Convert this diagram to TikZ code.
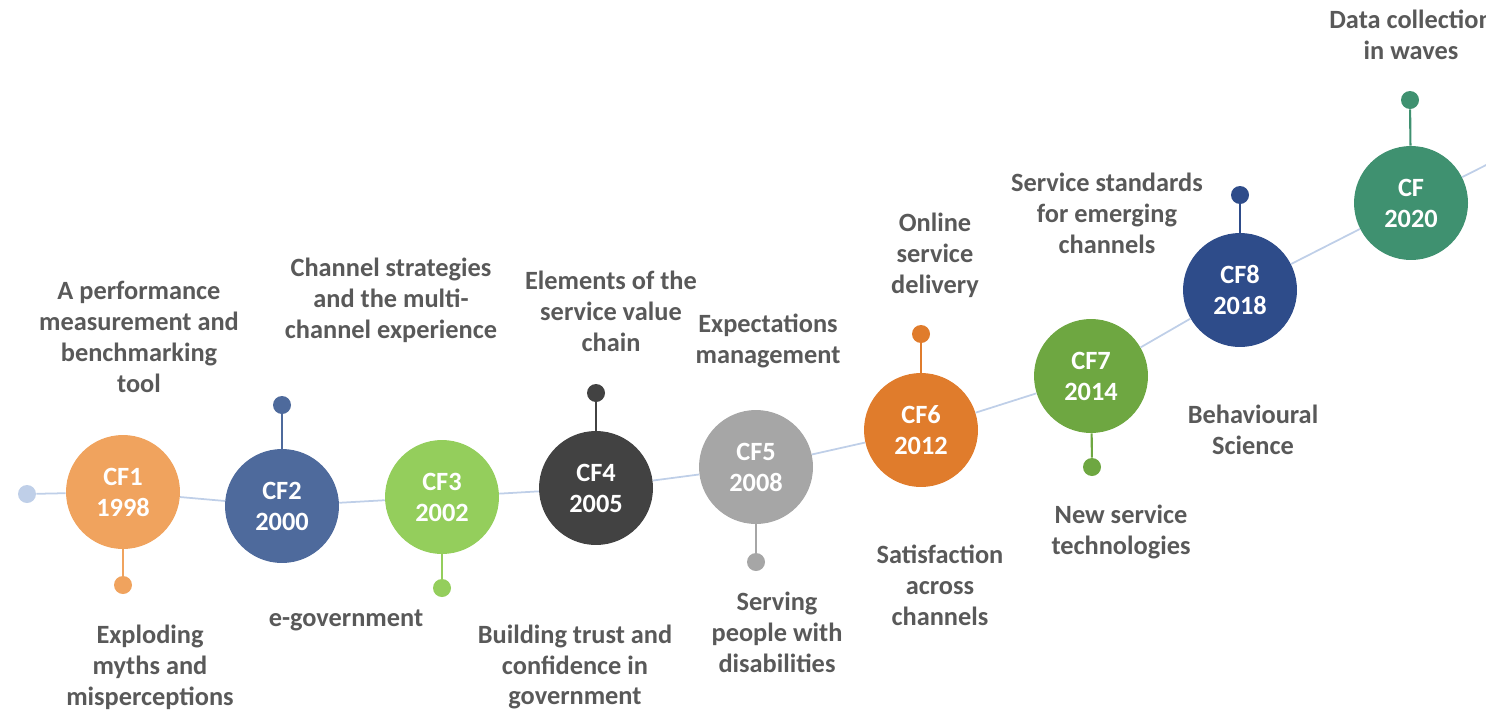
\documentclass[tikz,border=0pt]{standalone}
\usepackage{fontspec}
\setmainfont{Carlito}
\definecolor{cfone}{HTML}{F0A35E}
\definecolor{cftwo}{HTML}{4E6A9C}
\definecolor{cfthree}{HTML}{94CE5C}
\definecolor{cffour}{HTML}{424242}
\definecolor{cffive}{HTML}{A6A6A6}
\definecolor{cfsix}{HTML}{E07C2C}
\definecolor{cfseven}{HTML}{6EA741}
\definecolor{cfeight}{HTML}{2E4C8A}
\definecolor{cfnine}{HTML}{3F9170}
\definecolor{linecol}{HTML}{BFCFE8}
\definecolor{textcol}{HTML}{595959}
\tikzset{
  cfnode/.style={circle, fill=#1, minimum size=2.28cm, inner sep=0pt, text=white, align=center,
    font=\bfseries\fontsize{15}{17.6}\selectfont},
  pin/.style={circle, fill=#1, minimum size=0.36cm, inner sep=0pt},
  stem/.style={draw=#1, line width=1.2pt},
  timeline/.style={draw=linecol, line width=1pt},
  topic/.style={text=textcol, align=center, font=\bfseries\fontsize{15}{17.6}\selectfont}
}
\begin{document}
\begin{tikzpicture}[x=0.02cm, y=-0.02cm]
\useasboundingbox (0, 0) rectangle (1486, 710);
\node [pin=linecol] (start) at (27, 494) {};
\coordinate (tail) at (1500, 158);
\node [cfnode=cfone] (cf1) at (123, 492) {CF1\\1998};
\node [cfnode=cftwo] (cf2) at (282, 506) {CF2\\2000};
\node [cfnode=cfthree] (cf3) at (442, 497) {CF3\\2002};
\node [cfnode=cffour] (cf4) at (596, 488) {CF4\\2005};
\node [cfnode=cffive] (cf5) at (756, 467) {CF5\\2008};
\node [cfnode=cfsix] (cf6) at (921, 430) {CF6\\2012};
\node [cfnode=cfseven] (cf7) at (1091, 376) {CF7\\2014};
\node [cfnode=cfeight] (cf8) at (1240, 290) {CF8\\2018};
\node [cfnode=cfnine] (cf9) at (1411, 203) {CF\\2020};
\draw [timeline] (start) -- (cf1) -- (cf2) -- (cf3) -- (cf4) -- (cf5) -- (cf6) -- (cf7) -- (cf8) -- (cf9) -- (tail);
\node [pin=cfone] (p1) at (123, 585) {};
\node [pin=cftwo] (p2) at (282, 405) {};
\node [pin=cfthree] (p3) at (442, 588) {};
\node [pin=cffour] (p4) at (596, 393) {};
\node [pin=cffive] (p5) at (756, 562) {};
\node [pin=cfsix] (p6) at (921, 334) {};
\node [pin=cfseven] (p7) at (1092, 467) {};
\node [pin=cfeight] (p8) at (1240, 195) {};
\node [pin=cfnine] (p9) at (1410, 100) {};
\draw [stem=cfone] (cf1) -- (p1);
\draw [stem=cftwo] (cf2) -- (p2);
\draw [stem=cfthree] (cf3) -- (p3);
\draw [stem=cffour] (cf4) -- (p4);
\draw [stem=cffive] (cf5) -- (p5);
\draw [stem=cfsix] (cf6) -- (p6);
\draw [stem=cfseven] (cf7) -- (p7);
\draw [stem=cfeight] (cf8) -- (p8);
\draw [stem=cfnine] (cf9) -- (p9);
\node [topic] (t1) at (139, 337) {A performance\\measurement and\\benchmarking\\tool};
\node [topic] (b1) at (150, 667) {Exploding\\myths and\\misperceptions};
\node [topic] (t2) at (391, 300) {Channel strategies\\and the multi-\\channel experience};
\node [topic] (b2) at (346, 620) {e-government};
\node [topic] (t3) at (611, 311) {Elements of the\\service value\\chain};
\node [topic] (b3) at (575, 667) {Building trust and\\confidence in\\government};
\node [topic] (t4) at (768, 341) {Expectations\\management};
\node [topic] (b4) at (777, 632) {Serving\\people with\\disabilities};
\node [topic] (t5) at (935, 255) {Online\\service\\delivery};
\node [topic] (b5) at (940, 585) {Satisfaction\\across\\channels};
\node [topic] (t6) at (1107, 213) {Service standards\\for emerging\\channels};
\node [topic] (b6) at (1121, 532) {New service\\technologies};
\node [topic] (t7) at (1253, 430) {Behavioural\\Science};
\node [topic] (t8) at (1411, 35) {Data collection\\in waves};
\end{tikzpicture}
\end{document}
